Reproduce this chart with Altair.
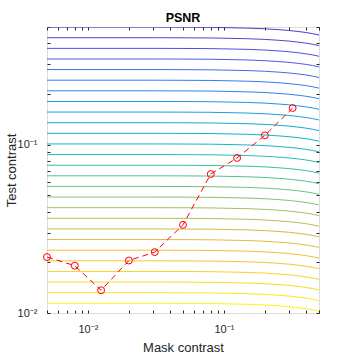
import altair as alt
import pandas as pd

# Red threshold data (mask contrast vs test contrast)
mask_contrast = [0.005, 0.008, 0.0125, 0.02, 0.031, 0.05, 0.08, 0.125, 0.2, 0.32]
test_contrast = [0.0215, 0.0191, 0.01365, 0.0205, 0.023, 0.0334, 0.0669, 0.0834, 0.1136, 0.165]

# Contour levels: flat test-contrast value of each iso-PSNR line (read at low mask contrast)
contour_levels = [0.01142, 0.01320, 0.01527, 0.01766, 0.02042, 0.02361, 0.02731,
                  0.03158, 0.03652, 0.04223, 0.04884, 0.05648, 0.06532, 0.07551,
                  0.08733, 0.1010, 0.1168, 0.1350, 0.1562, 0.1806, 0.2088,
                  0.2415, 0.2793, 0.3228, 0.3733, 0.4318, 0.4993]
# Bend of the contour lines toward high mask contrast
profile_mask = [0.005, 0.03, 0.05, 0.08, 0.1, 0.15, 0.2, 0.25, 0.3, 0.35, 0.4, 0.45, 0.5]
profile_factor = [1.0, 1.0, 0.9989, 0.9966, 0.9931, 0.9863, 0.9772, 0.9661, 0.955,
                  0.9419, 0.929, 0.9141, 0.8974]

x_ticks = [0.005, 0.006, 0.007, 0.008, 0.009,
           0.01, 0.02, 0.03, 0.04, 0.05, 0.06, 0.07, 0.08, 0.09,
           0.1, 0.2, 0.3, 0.4, 0.5]
y_ticks = [0.01, 0.02, 0.03, 0.04, 0.05, 0.06, 0.07, 0.08, 0.09,
           0.1, 0.2, 0.3, 0.4, 0.5]

parula = ["#4a3cc8", "#4f55e6", "#2f7df2", "#1a9ee0", "#0db5c8", "#38c0a0",
          "#80c278", "#bcbd55", "#f2ba3c", "#f8d52a", "#f9f514"]

rows = []
for lev in contour_levels:
    for m, f in zip(profile_mask, profile_factor):
        rows.append({"mask": m, "test": lev * f, "level": lev})
df_c = pd.DataFrame(rows)
df_p = pd.DataFrame({"mask": mask_contrast, "test": test_contrast})

FONT = "Liberation Sans"
TXT = "#262626"
label_expr = "datum.value == 0.01 ? '10⁻²' : (datum.value == 0.1 ? '10⁻¹' : '')"

xs = alt.Scale(type="log", domain=[0.005, 0.5], nice=False)
ys = alt.Scale(type="log", domain=[0.01, 0.5], nice=False)

x_bottom = alt.Axis(values=x_ticks, labelExpr=label_expr, orient="bottom", offset=-3,
                    tickSize=3, domain=False, grid=False, labelPadding=10,
                    labelFontSize=11, labelFont=FONT, labelColor=TXT, tickColor=TXT,
                    labelFlush=False, labelOverlap=False,
                    title="Mask contrast", titleFont=FONT, titleFontSize=13,
                    titleFontWeight="normal", titleColor=TXT,
                    titleX=136, titleY=41, titleBaseline="alphabetic")
y_left = alt.Axis(values=y_ticks, labelExpr=label_expr, orient="left", offset=-3,
                  tickSize=3, domain=False, grid=False, labelPadding=10,
                  labelFontSize=11, labelFont=FONT, labelColor=TXT, tickColor=TXT,
                  labelFlush=False, labelOverlap=False,
                  title="Test contrast", titleFont=FONT, titleFontSize=13,
                  titleFontWeight="normal", titleColor=TXT,
                  titleX=-35, titleY=143, titleBaseline="alphabetic")
x_top = alt.Axis(values=x_ticks, orient="top", offset=-3, tickSize=3, domain=False,
                 grid=False, labels=False, title=None, tickColor=TXT)
y_right = alt.Axis(values=y_ticks, orient="right", offset=-3, tickSize=3, domain=False,
                   grid=False, labels=False, title=None, tickColor=TXT)

contours = alt.Chart(df_c).mark_line(strokeWidth=1, clip=True, interpolate="monotone").encode(
    x=alt.X("mask:Q", scale=xs, axis=x_bottom),
    y=alt.Y("test:Q", scale=ys, axis=y_left),
    color=alt.Color("level:Q", scale=alt.Scale(type="log", range=parula[::-1], interpolate="rgb"),
                    legend=None),
    detail="level:N",
)

red_line = alt.Chart(df_p).mark_line(color="#ff0000", strokeDash=[6, 4], strokeWidth=1).encode(
    x=alt.X("mask:Q", scale=xs, axis=x_top),
    y=alt.Y("test:Q", scale=ys, axis=y_right),
)
red_pts = alt.Chart(df_p).mark_point(shape="circle", filled=False, color="#ff0000",
                                     size=48, strokeWidth=1, opacity=1).encode(
    x=alt.X("mask:Q", scale=xs, axis=None),
    y=alt.Y("test:Q", scale=ys, axis=None),
)

chart = alt.layer(contours, red_line, red_pts).resolve_axis(
    x="independent", y="independent"
).properties(
    width=272, height=286,
    autosize="none",
    padding={"left": 47, "top": 27, "right": 35, "bottom": 41},
    title=alt.TitleParams("PSNR", font=FONT, fontSize=12.5, fontWeight="bold",
                          color="#000000", anchor="middle", frame="group",
                          offset=6, baseline="alphabetic", dy=19),
).configure_view(stroke=TXT, strokeWidth=1).configure(background="white")

chart.save("out.html", embed_options={"renderer": "svg", "actions": False})
